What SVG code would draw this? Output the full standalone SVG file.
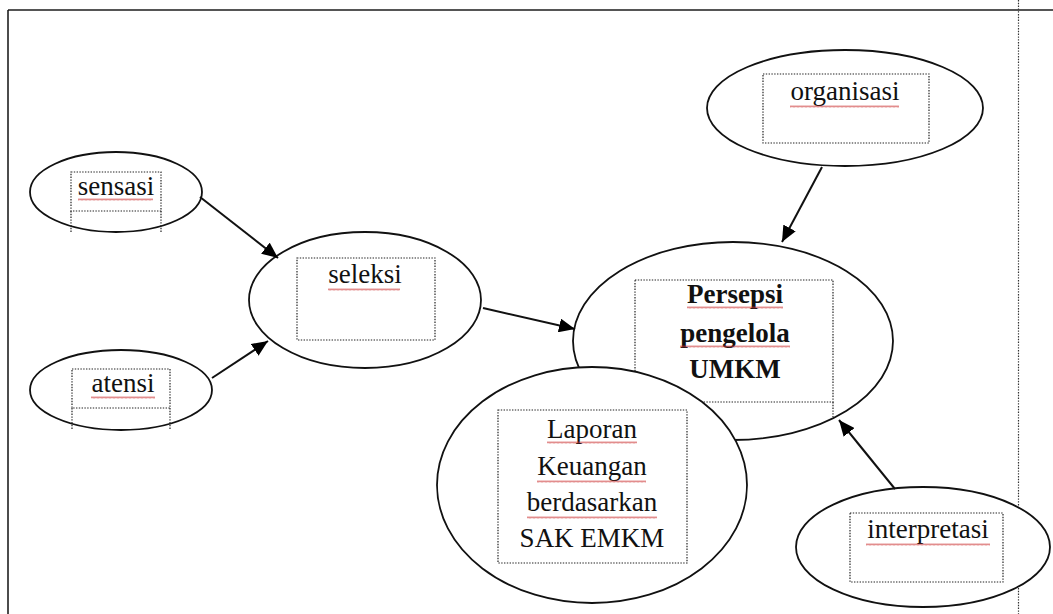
<svg xmlns="http://www.w3.org/2000/svg" width="1053" height="614" viewBox="0 0 1053 614">
<style>
.bg{fill:#ffffff}
.ell{fill:#ffffff;stroke:#111;stroke-width:1.8}
.box{fill:none;stroke:#222;stroke-width:1.2;stroke-dasharray:1.4 1.4}
.t{font-family:"Liberation Serif","Times New Roman",serif;font-size:27px;fill:#111;text-anchor:middle}
.b{font-weight:bold}
.sq{fill:url(#squig);opacity:0.8}
.edge{stroke:#111;stroke-width:2;fill:none;marker-end:url(#arr)}
</style>
<defs>
<marker id="arr" markerUnits="userSpaceOnUse" markerWidth="18" markerHeight="14" refX="16" refY="7" orient="auto">
<path d="M0,0 L16,7 L0,14 Z" fill="#000"/>
</marker>
<pattern id="squig" patternUnits="userSpaceOnUse" width="4" height="3">
<path d="M0,2.5 L1,0.5 L2,2.5 L3,0.5 L4,2.5" fill="none" stroke="#cc3333" stroke-width="0.7"/>
</pattern>
</defs>
<rect class="bg" x="0" y="0" width="1053" height="614"/>
<g id="frame">
<line x1="8" y1="10" x2="1053" y2="10" stroke="#555" stroke-width="2"/>
<line x1="8" y1="10" x2="8" y2="614" stroke="#111" stroke-width="1.5"/>
<line x1="1018.5" y1="0" x2="1018.5" y2="614" stroke="#333" stroke-width="1.2" stroke-dasharray="1.4 1.4"/>
</g>
<g id="sensasi">
<ellipse class="ell" cx="116" cy="192" rx="86" ry="40"/>
<rect class="box" x="71" y="172" width="90" height="39"/>
<path class="box" d="M71,211 V233 M161,211 V233"/>
<text class="t" x="116" y="195">sensasi</text>
<rect class="sq" x="78" y="198" width="75" height="3"/>
</g>
<g id="atensi">
<ellipse class="ell" cx="121" cy="390" rx="91" ry="40"/>
<rect class="box" x="72" y="369" width="98" height="39"/>
<path class="box" d="M72,408 V430 M170,408 V430"/>
<text class="t" x="123" y="392">atensi</text>
<rect class="sq" x="91" y="396" width="64" height="3"/>
</g>
<g id="seleksi">
<ellipse class="ell" cx="365" cy="300" rx="116" ry="68"/>
<rect class="box" x="297" y="258" width="138" height="82"/>
<text class="t" x="365" y="283">seleksi</text>
<rect class="sq" x="328" y="288" width="72" height="3"/>
</g>
<g id="organisasi">
<ellipse class="ell" cx="845" cy="108" rx="138" ry="58"/>
<rect class="box" x="763" y="74" width="166" height="69"/>
<text class="t" x="845" y="100">organisasi</text>
<rect class="sq" x="790" y="105" width="109" height="3"/>
</g>
<g id="persepsi">
<ellipse class="ell" cx="733" cy="341" rx="160" ry="99"/>
<rect class="box" x="635" y="280" width="198" height="122"/>
<path class="box" d="M833,402 V417"/>
<text class="t b" x="735" y="303">Persepsi</text>
<text class="t b" x="735" y="342">pengelola</text>
<text class="t b" x="735" y="378">UMKM</text>
<rect class="sq" x="687" y="306" width="96" height="3"/>
<rect class="sq" x="680" y="345" width="110" height="3"/>
</g>
<g id="laporan">
<ellipse class="ell" cx="592" cy="485" rx="155" ry="118"/>
<rect class="box" x="498" y="410" width="189" height="153"/>
<text class="t" x="592" y="438">Laporan</text>
<text class="t" x="592" y="475">Keuangan</text>
<text class="t" x="592" y="511">berdasarkan</text>
<text class="t" x="592" y="547">SAK EMKM</text>
<rect class="sq" x="547" y="441" width="90" height="3"/>
<rect class="sq" x="537" y="480" width="109" height="3"/>
<rect class="sq" x="527" y="516" width="130" height="3"/>
</g>
<g id="interpretasi">
<ellipse class="ell" cx="923" cy="547" rx="127" ry="60"/>
<rect class="box" x="850" y="513" width="153" height="69"/>
<text class="t" x="928" y="538">interpretasi</text>
<rect class="sq" x="866" y="543" width="124" height="3"/>
</g>
<g id="connectors">
<line class="edge" x1="200" y1="197" x2="278" y2="258"/>
<line class="edge" x1="212" y1="378" x2="268" y2="341"/>
<line class="edge" x1="483" y1="308" x2="575" y2="329"/>
<line class="edge" x1="822" y1="167" x2="782" y2="242"/>
<line class="edge" x1="895" y1="489" x2="839" y2="420"/>
</g>
</svg>
